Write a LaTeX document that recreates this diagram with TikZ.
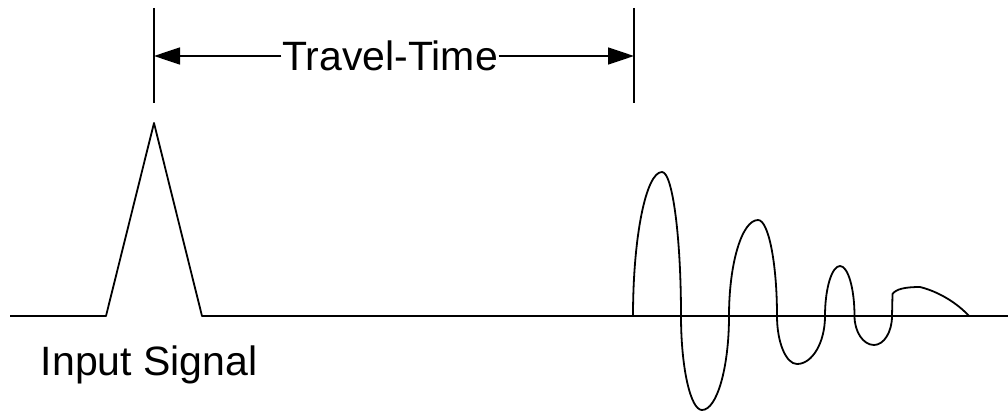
\documentclass[tikz,border=0pt]{standalone}
\usepackage{fontspec}
\setmainfont{Liberation Sans}
\usetikzlibrary{arrows.meta}

\begin{document}
\begin{tikzpicture}[x=1pt,y=-1pt,line width=1.8pt,line join=round,
  lbl/.style={font=\fontsize{41}{49}\selectfont,inner sep=0pt},
  tickline/.style={line width=1.8pt},
  dim/.style={-{Triangle[length=26pt,width=17pt]}},
  sig/.style={line width=1.8pt}]
\useasboundingbox (0,0) rectangle (1008,412);
% ---------- travel time ----------
\draw[tickline] (154,8) coordinate (tlTop) -- (154,103) coordinate (tlBot);
\draw[tickline] (634,8) coordinate (trTop) -- (634,103) coordinate (trBot);
\coordinate (tl) at (154,56);
\coordinate (tr) at (634,56);
\node[lbl] (tt) at (390,56) {Travel-Time};
\draw[dim] (tt.west) -- (tl);
\draw[dim] (tt.east) -- (tr);
% ---------- input pulse + base line ----------
\draw[sig] (10,316) -- (106,316) -- (154,123) -- (202,316) -- (1008,316);
\node[lbl,anchor=base west] (inp) at (40,375) {Input Signal};
% ---------- received signal ----------
\draw[sig] (633,316)
  .. controls (633,236.8) and (646,172) .. (662,172)
  .. controls (672.5,172) and (681,236.8) .. (681,316)
  .. controls (681,367.7) and (690.5,410) .. (702,410)
  .. controls (716.9,410) and (729,367.7) .. (729,316)
  .. controls (729,263.2) and (742,220) .. (758,220)
  .. controls (768.5,220) and (777,263.2) .. (777,316)
  .. controls (777,342.4) and (786,364) .. (797,364)
  .. controls (812.4,364) and (825,342.4) .. (825,316)
  .. controls (825,288.5) and (831.8,266) .. (840,266)
  .. controls (848,266) and (854.5,288.5) .. (854.5,316)
  .. controls (854.5,332) and (863.3,345) .. (874,345)
  .. controls (883.9,345) and (892,332) .. (892,316)
  -- (892.5,294)
  .. controls (896,289) and (905,287) .. (920,287)
  .. controls (940,292) and (958,304) .. (969,316);
\end{tikzpicture}
\end{document}
